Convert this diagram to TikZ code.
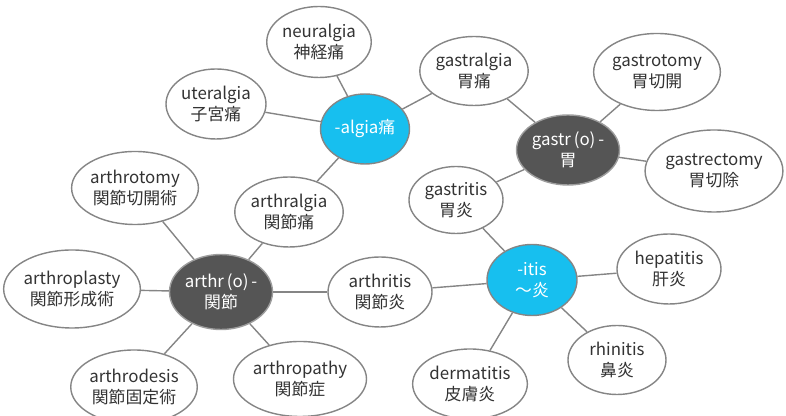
\documentclass[tikz,border=0pt]{standalone}
\usepackage{fontspec}
\setmainfont{Noto Sans CJK JP}
\usetikzlibrary{shapes.geometric}
\definecolor{stemblu}{HTML}{17BFEF}
\definecolor{rootgry}{HTML}{555555}
\definecolor{edgegry}{HTML}{858585}
\definecolor{textgry}{HTML}{333333}
\tikzset{
	term/.style={ellipse, draw=edgegry, line width=1pt, fill=white, text=textgry, align=center, inner sep=0pt, font=\fontsize{12}{15}\selectfont},
	suffix/.style={term, fill=stemblu, text=white},
	root/.style={term, fill=rootgry, draw=edgegry!80, text=white},
	link/.style={draw=edgegry, line width=1pt}
}

\begin{document}
\begin{tikzpicture}

	\useasboundingbox (0, 0) rectangle (19.65, 10.4);

	% the two suffixes
	\node[suffix, minimum width=2.225cm, minimum height=1.75cm] (algia) at (9.125, 7.175) {-algia痛};
	\node[suffix, minimum width=2.25cm, minimum height=1.775cm] (itis) at (13.3, 3.4) {-itis\\～炎};

	% the two roots
	\node[root, minimum width=2.575cm, minimum height=1.75cm] (gastr) at (14.2, 6.65) {gastr\,(o)\,-\\胃};
	\node[root, minimum width=2.575cm, minimum height=1.875cm] (arthr) at (5.525, 3.1) {arthr\,(o)\,-\\関節};

	% words
	\node[term, minimum width=2.5cm, minimum height=1.775cm] (neuralgia) at (7.975, 9.35) {neuralgia\\神経痛};
	\node[term, minimum width=2.5cm, minimum height=1.75cm] (uteralgia) at (5.4, 7.8) {uteralgia\\子宮痛};
	\node[term, minimum width=2.6cm, minimum height=1.725cm] (gastralgia) at (11.85, 8.625) {gastralgia\\胃痛};
	\node[term, minimum width=3.05cm, minimum height=1.925cm] (gastrotomy) at (16.425, 8.6) {gastrotomy\\胃切開};
	\node[term, minimum width=3.15cm, minimum height=2.05cm] (gastrectomy) at (17.85, 6.125) {gastrectomy\\胃切除};
	\node[term, minimum width=2.35cm, minimum height=1.675cm] (gastritis) at (11.4, 5.4) {gastritis\\胃炎};
	\node[term, minimum width=3.075cm, minimum height=1.825cm] (arthrotomy) at (3.375, 5.7) {arthrotomy\\関節切開術};
	\node[term, minimum width=2.6cm, minimum height=1.75cm] (arthralgia) at (7.225, 5.1) {arthralgia\\関節痛};
	\node[term, minimum width=3.225cm, minimum height=1.95cm] (arthroplasty) at (1.8, 3.175) {arthroplasty\\関節形成術};
	\node[term, minimum width=2.6cm, minimum height=1.75cm] (arthritis) at (9.5, 3.1) {arthritis\\関節炎};
	\node[term, minimum width=3.05cm, minimum height=1.85cm] (arthrodesis) at (3.35, 0.725) {arthrodesis\\関節固定術};
	\node[term, minimum width=3.075cm, minimum height=1.875cm] (arthropathy) at (7.5, 0.925) {arthropathy\\関節症};
	\node[term, minimum width=2.6cm, minimum height=1.75cm] (hepatitis) at (16.725, 3.675) {hepatitis\\肝炎};
	\node[term, minimum width=2.45cm, minimum height=1.725cm] (rhinitis) at (15.425, 1.4) {rhinitis\\鼻炎};
	\node[term, minimum width=2.6cm, minimum height=1.75cm] (dermatitis) at (11.75, 0.8) {dermatitis\\皮膚炎};

	% -algia
	\draw[link] (algia) -- (neuralgia);
	\draw[link] (algia) -- (uteralgia);
	\draw[link] (algia) -- (gastralgia);
	\draw[link] (algia) -- (arthralgia);

	% gastr(o)-
	\draw[link] (gastr) -- (gastralgia);
	\draw[link] (gastr) -- (gastrotomy);
	\draw[link] (gastr) -- (gastrectomy);
	\draw[link] (gastr) -- (gastritis);

	% arthr(o)-
	\draw[link] (arthr) -- (arthrotomy);
	\draw[link] (arthr) -- (arthralgia);
	\draw[link] (arthr) -- (arthroplasty);
	\draw[link] (arthr) -- (arthritis);
	\draw[link] (arthr) -- (arthrodesis);
	\draw[link] (arthr) -- (arthropathy);

	% -itis
	\draw[link] (itis) -- (gastritis);
	\draw[link] (itis) -- (arthritis);
	\draw[link] (itis) -- (hepatitis);
	\draw[link] (itis) -- (rhinitis);
	\draw[link] (itis) -- (dermatitis);

\end{tikzpicture}
\end{document}
